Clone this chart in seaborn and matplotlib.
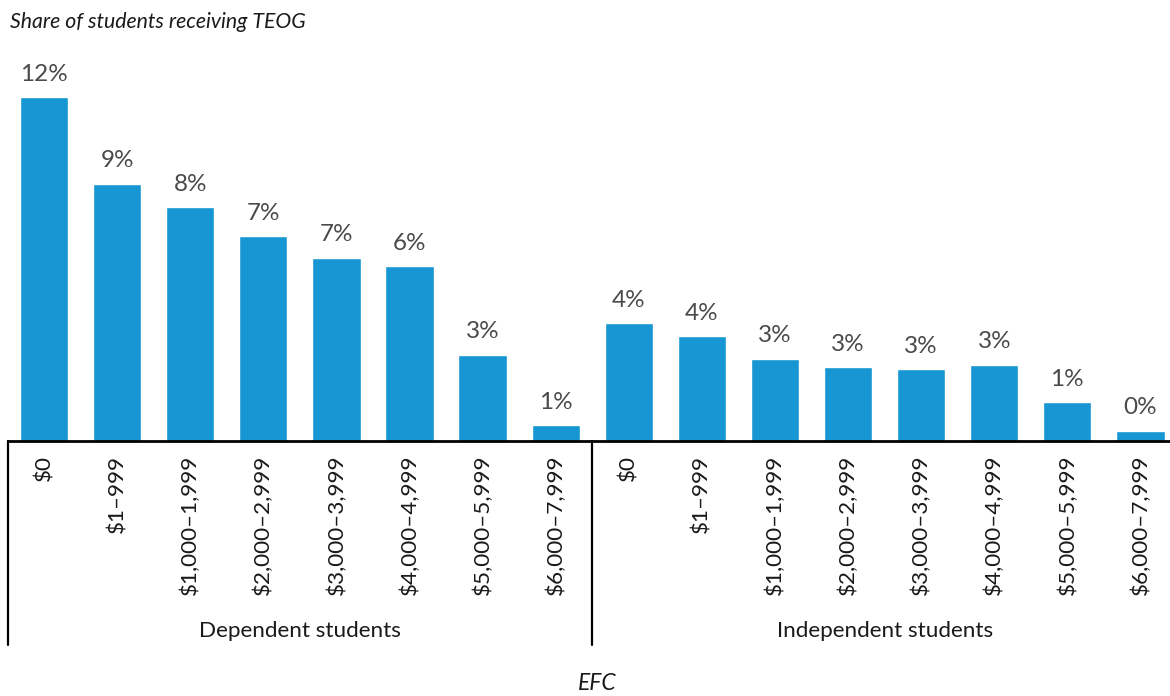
import matplotlib
matplotlib.use("Agg")
import matplotlib.pyplot as plt
import seaborn as sns
import pandas as pd
import numpy as np

# ---- data ----
groups = ["Dependent students", "Independent students"]
efc_labels = ["$0", "$1–999", "$1,000–1,999", "$2,000–2,999", "$3,000–3,999",
              "$4,000–4,999", "$5,000–5,999", "$6,000–7,999"]
dependent_share = [12.35, 9.24, 8.40, 7.36, 6.58, 6.28, 3.09, 0.57]
independent_share = [4.22, 3.76, 2.96, 2.64, 2.57, 2.74, 1.39, 0.36]
title_text = "Share of students receiving TEOG"
xlabel_text = "EFC"

rows = []
for g, vals in zip(groups, [dependent_share, independent_share]):
    for lab, v in zip(efc_labels, vals):
        rows.append({"group": g, "efc": lab, "slot": f"{g}|{lab}", "share": v})
df = pd.DataFrame(rows)

sns.set_style("white")
plt.rcParams["font.family"] = ["Lato", "DejaVu Sans"]

W, H = 1170, 696
fig = plt.figure(figsize=(W / 100, H / 100), dpi=100)
ax_left_px, ax_right_px = 7.5, 1177.0
ax_bottom_px, ax_top_px = 441.0, 60.0
ax = fig.add_axes([ax_left_px / W, (H - ax_bottom_px) / H,
                   (ax_right_px - ax_left_px) / W, (ax_bottom_px - ax_top_px) / H])

blue = "#1696d2"
sns.barplot(data=df, x="slot", y="share", order=list(df["slot"]), color=blue,
            width=0.66, saturation=1, ax=ax, errorbar=None)

px_per_pct = 27.85
ax.set_ylim(0, (ax_bottom_px - ax_top_px) / px_per_pct)
ax.set_xlim(-0.5, len(df) - 0.5)

# value labels
for i, v in enumerate(df["share"]):
    ax.annotate(f"{round(v):.0f}%", (i, v), xytext=(0, 9), textcoords="offset points",
                ha="center", va="bottom", fontsize=17.5, color="#4a4a4a")

ax.set_xticks(range(len(df)))
ax.set_xticklabels(df["efc"], rotation=90, va="top", ha="center",
                   fontsize=16.2, color="#1a1a1a")
ax.tick_params(axis="x", length=0, pad=10)
ax.set_yticks([])
ax.set_xlabel("")
ax.set_ylabel("")
for s in ["top", "right", "left"]:
    ax.spines[s].set_visible(False)
ax.spines["bottom"].set_linewidth(2)
ax.spines["bottom"].set_color("black")

# group separators
axh = ax_bottom_px - ax_top_px
y_low = -(645 - ax_bottom_px) / axh
trans = ax.get_xaxis_transform()
for xpos in [-0.5, 7.5, 15.5]:
    ax.plot([xpos, xpos], [0, y_low], transform=trans, color="black", lw=1.6,
            clip_on=False)

y_grp = -(631 - ax_bottom_px) / axh
for gi, g in enumerate(groups):
    ax.text(gi * 8 + 3.5, y_grp, g, transform=trans, ha="center", va="center",
            fontsize=16.2, color="#1a1a1a")

fig.text(597 / W, 1 - 683 / H, xlabel_text, ha="center", va="center",
         fontsize=16.5, style="italic", color="#1a1a1a")
fig.text(10 / W, 1 - 22 / H, title_text, ha="left", va="center",
         fontsize=15.3, style="italic", color="#1a1a1a")

fig.savefig("out.png", dpi=100)
